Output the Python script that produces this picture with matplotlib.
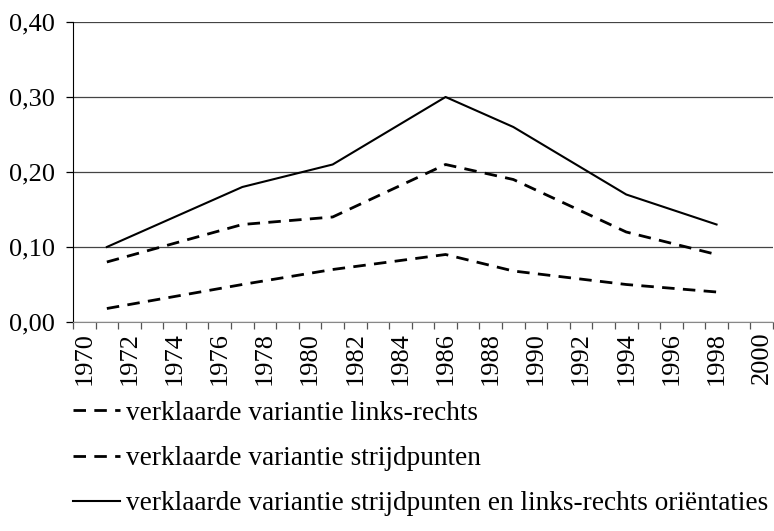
import numpy as np
import matplotlib.pyplot as plt
from matplotlib.ticker import MultipleLocator, FuncFormatter

# data
years = [1971, 1977, 1981, 1986, 1989, 1994, 1998]
links_rechts = [0.018, 0.05, 0.07, 0.09, 0.068, 0.05, 0.04]
strijdpunten = [0.08, 0.13, 0.14, 0.21, 0.19, 0.12, 0.09]
beide = [0.10, 0.18, 0.21, 0.30, 0.26, 0.17, 0.13]
labels = ["verklaarde variantie links-rechts",
          "verklaarde variantie strijdpunten",
          "verklaarde variantie strijdpunten en links-rechts oriëntaties"]

plt.rcParams['font.family'] = ['Liberation Serif', 'DejaVu Serif']
plt.rcParams['font.size'] = 19

fig = plt.figure(figsize=(7.74, 5.31), dpi=100)
ax = fig.add_axes([0.0943, 0.3936, 0.9044, 0.565])

dash = (0, (4.5, 3))
ax.plot(years, links_rechts, color='black', lw=2, linestyle=dash, label=labels[0])
ax.plot(years, strijdpunten, color='black', lw=2, linestyle=dash, label=labels[1])
ax.plot(years, beide, color='black', lw=1.5, linestyle='-', label=labels[2])

ax.set_xlim(1969.5, 2000.5)
ax.set_ylim(0, 0.40)
ax.set_yticks([0, 0.1, 0.2, 0.3, 0.4])
ax.yaxis.set_major_formatter(FuncFormatter(lambda v, p: f"{v:.2f}".replace('.', ',')))
ax.yaxis.grid(True, color='#444444', lw=0.9)
ax.set_axisbelow(True)

ax.set_xticks(np.arange(1970, 2001, 2))
ax.set_xticklabels([str(y) for y in range(1970, 2001, 2)], rotation=90)
ax.xaxis.set_minor_locator(MultipleLocator(1, offset=0.5))
ax.tick_params(axis='x', which='major', length=0, pad=7)
ax.tick_params(axis='x', which='minor', length=5, width=0.9, color='#555555', direction='out')
ax.tick_params(axis='y', length=5, width=0.9, pad=8)

for s in ['top', 'right']:
    ax.spines[s].set_visible(False)
ax.spines['bottom'].set_color('#888888')
ax.spines['left'].set_color('black')

fig.legend(loc='upper left', bbox_to_anchor=(0.094, 0.245), bbox_transform=fig.transFigure,
           frameon=False, handlelength=1.75, handletextpad=0.2, labelspacing=0.74,
           borderaxespad=0, borderpad=0, fontsize=19.6)

fig.savefig('out.png', dpi=100)
